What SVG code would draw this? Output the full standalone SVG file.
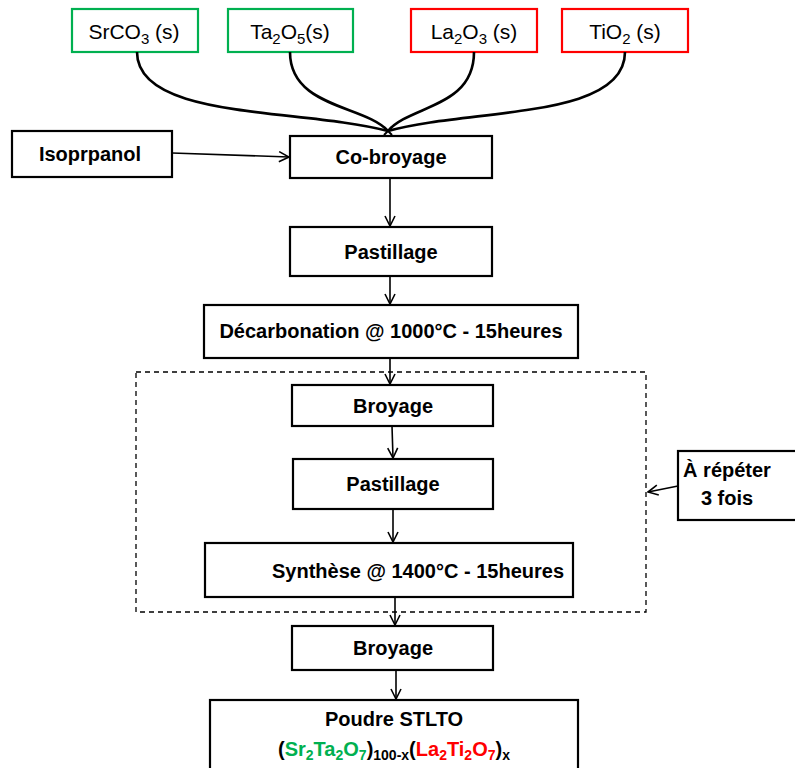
<svg xmlns="http://www.w3.org/2000/svg" width="795" height="768" viewBox="0 0 795 768">
<style>
.box{fill:#fff;stroke:#000;stroke-width:2.2}
.g{fill:#fff;stroke:#00B050;stroke-width:2.2}
.r{fill:#fff;stroke:#FF0000;stroke-width:2.2}
.t{font-family:"Liberation Sans",Arial,sans-serif;font-weight:bold;font-size:20px;text-anchor:middle;fill:#000}
.tn{font-family:"Liberation Sans",Arial,sans-serif;font-size:21px;text-anchor:middle;fill:#000}
.c{fill:none;stroke:#000;stroke-width:1.6;marker-end:url(#ah)}
.cv{fill:none;stroke:#000;stroke-width:2.6}
</style>
<defs>
<marker id="ah" viewBox="0 0 12 12" refX="11" refY="6" markerWidth="12" markerHeight="12" markerUnits="userSpaceOnUse" orient="auto">
<path d="M1,1 L11,6 L1,11" fill="none" stroke="#000" stroke-width="1.6"/>
</marker>
</defs>
<g id="n_srco3"><rect class="g" x="72" y="9" width="126" height="43"/><text class="tn" x="134" y="39">SrCO<tspan font-size="15" dy="5">3</tspan><tspan dy="-5"> (s)</tspan></text></g>
<g id="n_ta2o5"><rect class="g" x="228" y="9" width="125" height="43"/><text class="tn" x="290" y="39">Ta<tspan font-size="15" dy="5">2</tspan><tspan dy="-5">O</tspan><tspan font-size="15" dy="5">5</tspan><tspan dy="-5">(s)</tspan></text></g>
<g id="n_la2o3"><rect class="r" x="411" y="9" width="126" height="43"/><text class="tn" x="474" y="39">La<tspan font-size="15" dy="5">2</tspan><tspan dy="-5">O</tspan><tspan font-size="15" dy="5">3</tspan><tspan dy="-5"> (s)</tspan></text></g>
<g id="n_tio2"><rect class="r" x="562" y="9" width="126" height="43"/><text class="tn" x="625" y="39">TiO<tspan font-size="15" dy="5">2</tspan><tspan dy="-5"> (s)</tspan></text></g>
<g id="n_iso"><rect class="box" x="12" y="131" width="160" height="46"/><text class="t" x="90" y="161">Isoprpanol</text></g>
<g id="n_cobroyage"><rect class="box" x="290" y="136" width="202" height="42"/><text class="t" x="391" y="164">Co-broyage</text></g>
<g id="n_past1"><rect class="box" x="290" y="227" width="202" height="49"/><text class="t" x="391" y="259">Pastillage</text></g>
<g id="n_decarb"><rect class="box" x="204" y="305" width="374" height="53"/><text class="t" x="391" y="338">Décarbonation @ 1000°C - 15heures</text></g>
<g id="n_repeat_zone"><rect x="136" y="372" width="510" height="240" fill="none" stroke="#000" stroke-width="1.3" stroke-dasharray="5,4"/></g>
<g id="n_broy1"><rect class="box" x="292" y="385" width="201" height="41"/><text class="t" x="393" y="413">Broyage</text></g>
<g id="n_past2"><rect class="box" x="293" y="459" width="200" height="50"/><text class="t" x="393" y="491">Pastillage</text></g>
<g id="n_synth"><rect class="box" x="205" y="543" width="368" height="54"/><text class="t" x="418" y="578">Synthèse @ 1400°C - 15heures</text></g>
<g id="n_broy2"><rect class="box" x="292" y="626" width="201" height="44"/><text class="t" x="393" y="655">Broyage</text></g>
<g id="n_poudre"><rect class="box" x="210" y="700" width="368" height="70"/>
<text class="t" x="394" y="726">Poudre STLTO</text>
<text class="t" x="394" y="756">(<tspan fill="#00B050">Sr<tspan font-size="14" dy="4">2</tspan><tspan dy="-4">Ta</tspan><tspan font-size="14" dy="4">2</tspan><tspan dy="-4">O</tspan><tspan font-size="14" dy="4">7</tspan></tspan><tspan dy="-4">)</tspan><tspan font-size="14" dy="4">100-x</tspan><tspan dy="-4">(</tspan><tspan fill="#FF0000">La<tspan font-size="14" dy="4">2</tspan><tspan dy="-4">Ti</tspan><tspan font-size="14" dy="4">2</tspan><tspan dy="-4">O</tspan><tspan font-size="14" dy="4">7</tspan></tspan><tspan dy="-4">)</tspan><tspan font-size="14" dy="4">x</tspan></text></g>
<g id="n_repeter"><rect class="box" x="678" y="451" width="122" height="69"/><text class="t" x="727" y="477">À répéter</text><text class="t" x="727" y="505">3 fois</text></g>
<g id="connectors">
<path class="cv" d="M137,52 C137,120 300,108 388,131"/>
<path class="cv" d="M290,52 C290,108 365,105 388,131"/>
<path class="cv" d="M474,52 C474,108 410,105 388,131"/>
<path class="cv" d="M625,52 C625,120 470,108 388,131"/>
<path d="M384,127 L392,135 M392,127 L384,135" stroke="#000" stroke-width="2"/>
<path class="c" d="M172,153 L289,157"/>
<path class="c" d="M390,178 L390,226"/>
<path class="c" d="M390,276 L390,304"/>
<path class="c" d="M390,358 L390,384"/>
<path class="c" d="M392,426 L393,458"/>
<path class="c" d="M393,509 L393,542"/>
<path class="c" d="M395,597 L395,625"/>
<path class="c" d="M396,670 L396,699"/>
<path class="c" d="M678,486 L648,492"/>
</g>
</svg>
